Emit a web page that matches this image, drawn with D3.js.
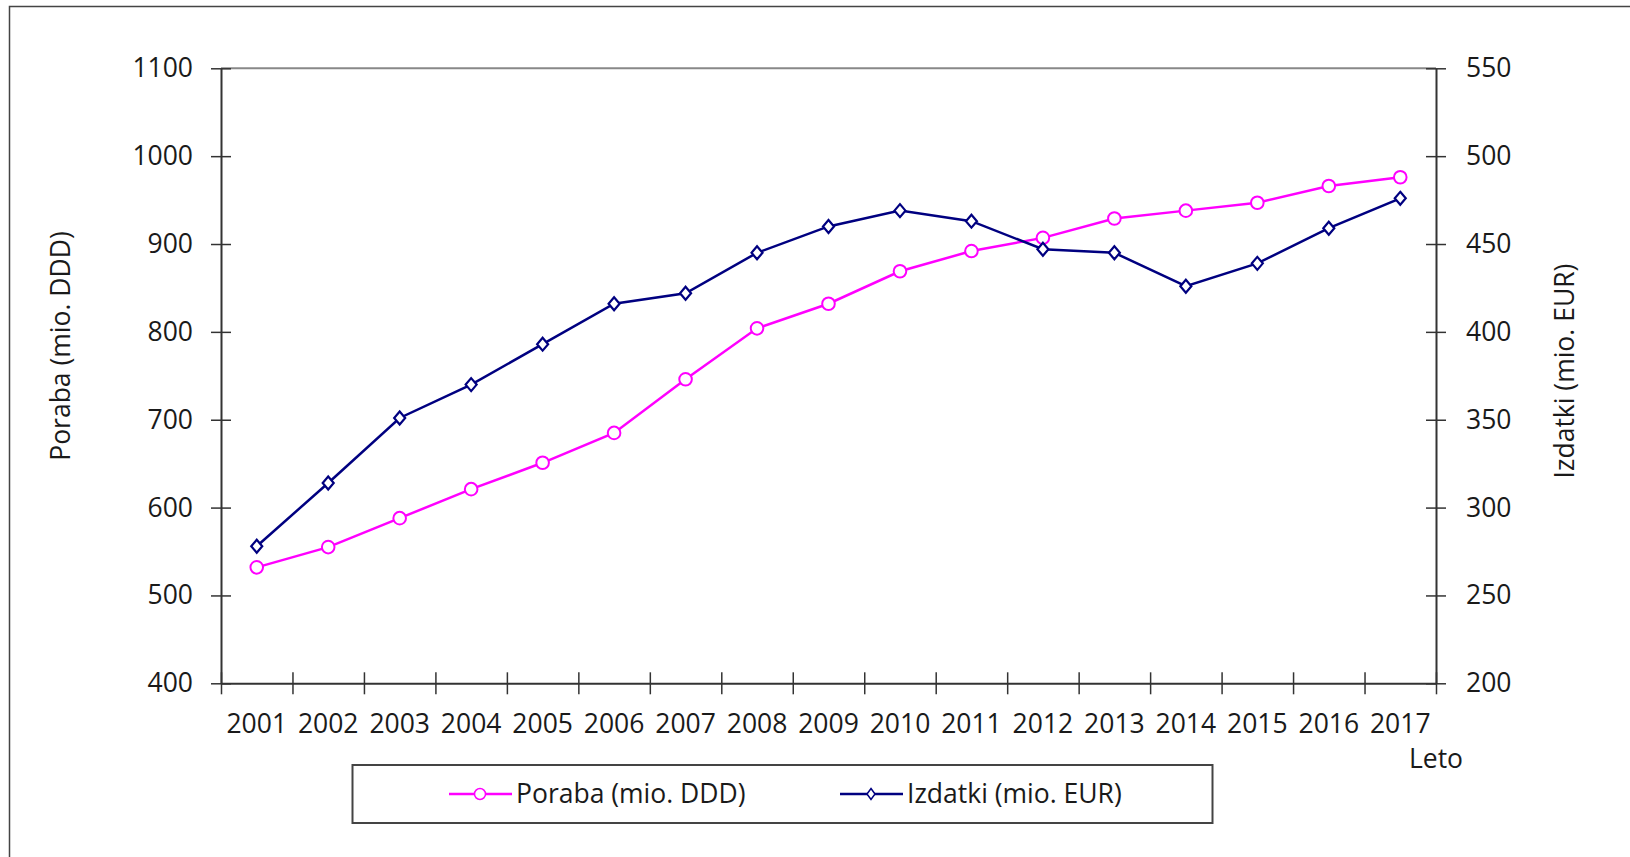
<!DOCTYPE html>
<html>
<head>
<meta charset="utf-8">
<script src="https://cdn.jsdelivr.net/npm/d3@7"></script>
<style>
  body { margin: 0; background: #fff; }
  svg text { font-family: "Open Sans", sans-serif; fill: #1a1a1a; }
</style>
</head>
<body>
<div id="chart"></div>
<script>
var years = ['2001','2002','2003','2004','2005','2006','2007','2008','2009',
             '2010','2011','2012','2013','2014','2015','2016','2017'];
var poraba = [532, 555, 588, 621, 651, 685, 746, 804, 832, 869, 892, 907, 929, 938, 947, 966, 976];
var izdatki = [278, 314, 351, 370, 393, 416, 422, 445, 460, 469, 463, 447, 445, 426, 439, 459, 476];
var leftTicks = [400, 500, 600, 700, 800, 900, 1000, 1100];
var rightTicks = [200, 250, 300, 350, 400, 450, 500, 550];

var svg_width = 1630;
var svg_height = 857;
var fontSize = 26.5;
var axisColor = '#333';

var svg = d3.select('#chart')
  .append('svg')
  .attr('width', svg_width)
  .attr('height', svg_height);

// outer frame
svg.append('rect')
  .attr('x', 9.5).attr('y', 6.5)
  .attr('width', 1700).attr('height', 1000)
  .attr('fill', 'none')
  .attr('stroke', '#444')
  .attr('stroke-width', 1.5);

var plotLeft = 221, plotRight = 1436, plotTop = 68.3, plotBottom = 683.3;

var x = d3.scaleBand().domain(years).range([plotLeft, plotRight]);
var xEdge = d3.scaleLinear().domain([0, years.length]).range([plotLeft, plotRight]);
var yL = d3.scaleLinear().domain([400, 1100]).range([plotBottom, plotTop]);
var yR = d3.scaleLinear().domain([200, 550]).range([plotBottom, plotTop]);

// top border of plot area
svg.append('line')
  .attr('x1', plotLeft).attr('x2', plotRight)
  .attr('y1', plotTop).attr('y2', plotTop)
  .attr('stroke', '#888').attr('stroke-width', 2);

function styleAxis(g) {
  g.select('.domain').attr('stroke', axisColor).attr('stroke-width', 2);
  g.selectAll('.tick line').attr('stroke', axisColor).attr('stroke-width', 1.5);
  g.selectAll('text').style('font-size', fontSize + 'px').attr('fill', '#1a1a1a');
}

// left axis
var gL = svg.append('g')
  .attr('transform', 'translate(' + plotLeft + ',0)')
  .call(d3.axisLeft(yL).tickValues(leftTicks).tickFormat(d3.format('d'))
    .tickSizeInner(10).tickSizeOuter(0).tickPadding(18));
gL.selectAll('.tick line').attr('x1', 10);
styleAxis(gL);

// right axis
var gR = svg.append('g')
  .attr('transform', 'translate(' + plotRight + ',0)')
  .call(d3.axisRight(yR).tickValues(rightTicks).tickFormat(d3.format('d'))
    .tickSizeInner(10).tickSizeOuter(0).tickPadding(20));
gR.selectAll('.tick line').attr('x1', -10);
styleAxis(gR);

// bottom axis: ticks between categories
var gB = svg.append('g')
  .attr('transform', 'translate(0,' + plotBottom + ')')
  .call(d3.axisBottom(xEdge).tickValues(d3.range(years.length + 1)).tickFormat('').tickSizeInner(11).tickSizeOuter(0));
gB.selectAll('.tick line').attr('y1', -11);
styleAxis(gB);

// bottom labels at category centres
var gBL = svg.append('g')
  .attr('transform', 'translate(0,' + plotBottom + ')')
  .call(d3.axisBottom(x).tickSize(0).tickPadding(31));
gBL.select('.domain').remove();
styleAxis(gBL);

// axis titles
svg.append('text')
  .attr('transform', 'translate(70,346) rotate(-90)')
  .attr('text-anchor', 'middle')
  .style('font-size', fontSize + 'px')
  .text('Poraba (mio. DDD)');

svg.append('text')
  .attr('transform', 'translate(1574,371) rotate(-90)')
  .attr('text-anchor', 'middle')
  .style('font-size', fontSize + 'px')
  .text('Izdatki (mio. EUR)');

svg.append('text')
  .attr('x', 1436).attr('y', 768)
  .attr('text-anchor', 'middle')
  .style('font-size', fontSize + 'px')
  .text('Leto');

var cx = function(d, i) { return x(years[i]) + x.bandwidth() / 2; };

// Poraba series
var magenta = '#ff00ff';
svg.append('path')
  .datum(poraba)
  .attr('fill', 'none')
  .attr('stroke', magenta)
  .attr('stroke-width', 2.5)
  .attr('d', d3.line().x(cx).y(function(d) { return yL(d); }));

svg.selectAll('.pt-poraba')
  .data(poraba)
  .enter().append('circle')
  .attr('class', 'pt-poraba')
  .attr('cx', cx)
  .attr('cy', function(d) { return yL(d); })
  .attr('r', 6.3)
  .attr('fill', '#fff')
  .attr('stroke', magenta)
  .attr('stroke-width', 2);

// Izdatki series
var navy = '#000080';
svg.append('path')
  .datum(izdatki)
  .attr('fill', 'none')
  .attr('stroke', navy)
  .attr('stroke-width', 2.5)
  .attr('d', d3.line().x(cx).y(function(d) { return yR(d); }));

function diamond(w, h) {
  return 'M0,' + (-h) + 'L' + w + ',0L0,' + h + 'L' + (-w) + ',0Z';
}

svg.selectAll('.pt-izdatki')
  .data(izdatki)
  .enter().append('path')
  .attr('class', 'pt-izdatki')
  .attr('transform', function(d, i) { return 'translate(' + cx(d, i) + ',' + yR(d) + ')'; })
  .attr('d', diamond(5.5, 6.5))
  .attr('fill', '#fff')
  .attr('stroke', navy)
  .attr('stroke-width', 2.2);

// legend
var legend = svg.append('g');
legend.append('rect')
  .attr('x', 352.5).attr('y', 765)
  .attr('width', 860).attr('height', 58)
  .attr('fill', '#fff')
  .attr('stroke', '#444')
  .attr('stroke-width', 2);

var legY = 794;
legend.append('line')
  .attr('x1', 449).attr('x2', 512).attr('y1', legY).attr('y2', legY)
  .attr('stroke', magenta).attr('stroke-width', 2.5);
legend.append('circle')
  .attr('cx', 480).attr('cy', legY).attr('r', 5.5)
  .attr('fill', '#fff').attr('stroke', magenta).attr('stroke-width', 1.5);
legend.append('text')
  .attr('x', 516).attr('y', legY).attr('dy', '0.35em')
  .style('font-size', fontSize + 'px')
  .text('Poraba (mio. DDD)');

legend.append('line')
  .attr('x1', 840).attr('x2', 903).attr('y1', legY).attr('y2', legY)
  .attr('stroke', navy).attr('stroke-width', 2.5);
legend.append('path')
  .attr('transform', 'translate(871,' + legY + ')')
  .attr('d', diamond(4, 5.5))
  .attr('fill', '#fff').attr('stroke', navy).attr('stroke-width', 1.5);
legend.append('text')
  .attr('x', 907).attr('y', legY).attr('dy', '0.35em')
  .style('font-size', fontSize + 'px')
  .text('Izdatki (mio. EUR)');
</script>
</body>
</html>
